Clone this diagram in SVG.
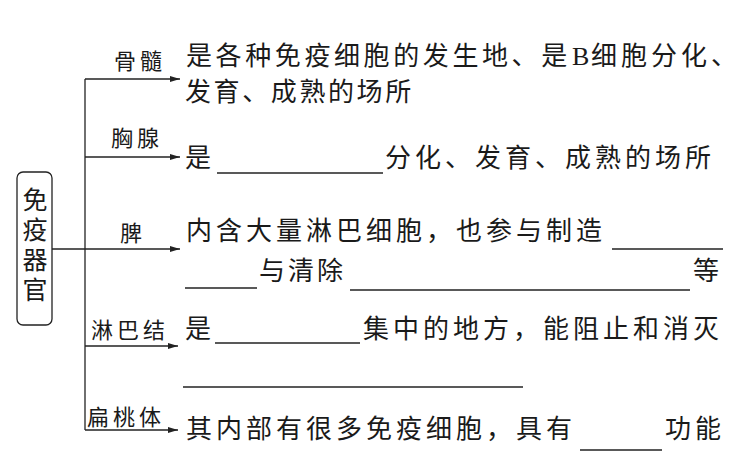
<svg xmlns="http://www.w3.org/2000/svg" width="743" height="476" viewBox="0 0 743 476">
<defs>
<style>
text{font-family:"Noto Sans CJK SC","Noto Sans",sans-serif;fill:#1a1a1a}
.m{font-size:26px;letter-spacing:4px}
.lb{font-size:22px;letter-spacing:4px}
.bx{font-size:25px;writing-mode:vertical-rl;letter-spacing:5px}
.ln{stroke:#222;stroke-width:1.3;fill:none}
.ul{stroke:#222;stroke-width:1.3}
.b{font-family:"Liberation Serif",serif;letter-spacing:0}
</style>
<marker id="ah" viewBox="0 0 10 6" refX="10" refY="3" markerWidth="10" markerHeight="6" markerUnits="userSpaceOnUse" orient="auto">
<path d="M0,0 L10,3 L0,6 Z" fill="#222"/>
</marker>
</defs>
<rect width="743" height="476" fill="#fff"/>
<g id="root">
<rect x="17" y="172" width="35" height="153" rx="6" ry="6" class="ln"/>
<text class="bx" x="35" y="187">免疫器官</text>
</g>
<g id="connectors">
<line class="ln" x1="85" y1="79" x2="85" y2="430"/>
<line class="ln" x1="85" y1="79" x2="180" y2="79" marker-end="url(#ah)"/>
<line class="ln" x1="85" y1="157" x2="180" y2="157" marker-end="url(#ah)"/>
<line class="ln" x1="52" y1="249" x2="180" y2="249" marker-end="url(#ah)"/>
<line class="ln" x1="85" y1="346" x2="178" y2="346" marker-end="url(#ah)"/>
<line class="ln" x1="85" y1="430" x2="178" y2="430" marker-end="url(#ah)"/>
</g>
<g id="node-gusui">
<text class="lb" x="114" y="69">骨髓</text>
<text class="m" x="186" y="65" style="letter-spacing:3.6px">是各种免疫细胞的发生地、是</text>
<text class="m b" x="572" y="65">B</text>
<text class="m" x="591" y="65">细胞分化、</text>
<text class="m" x="185" y="101" style="letter-spacing:2.6px">发育、成熟的场所</text>
</g>
<g id="node-xiongxian">
<text class="lb" x="111" y="146">胸腺</text>
<text class="m" x="185" y="167">是</text>
<line class="ul" x1="217" y1="173" x2="383" y2="173"/>
<text class="m" x="385" y="167">分化、发育、成熟的场所</text>
</g>
<g id="node-pi">
<text class="lb" x="120" y="241">脾</text>
<text class="m" x="186" y="240">内含大量淋巴细胞，也参与制造</text>
<line class="ul" x1="612" y1="249" x2="723" y2="249"/>
<line class="ul" x1="185" y1="288" x2="257" y2="288"/>
<text class="m" x="259" y="280" style="letter-spacing:3px">与清除</text>
<line class="ul" x1="350" y1="290" x2="690" y2="290"/>
<text class="m" x="693" y="280">等</text>
</g>
<g id="node-linbajie">
<text class="lb" x="91" y="338">淋巴结</text>
<text class="m" x="185" y="338">是</text>
<line class="ul" x1="215" y1="343" x2="360" y2="343"/>
<text class="m" x="363" y="338">集中的地方，能阻止和消灭</text>
<line class="ul" x1="183" y1="387" x2="523" y2="387"/>
</g>
<g id="node-biantaoti">
<text class="lb" x="87" y="425">扁桃体</text>
<text class="m" x="186" y="438">其内部有很多免疫细胞，具有</text>
<line class="ul" x1="580" y1="450" x2="662" y2="450"/>
<text class="m" x="665" y="438">功能</text>
</g>
</svg>
